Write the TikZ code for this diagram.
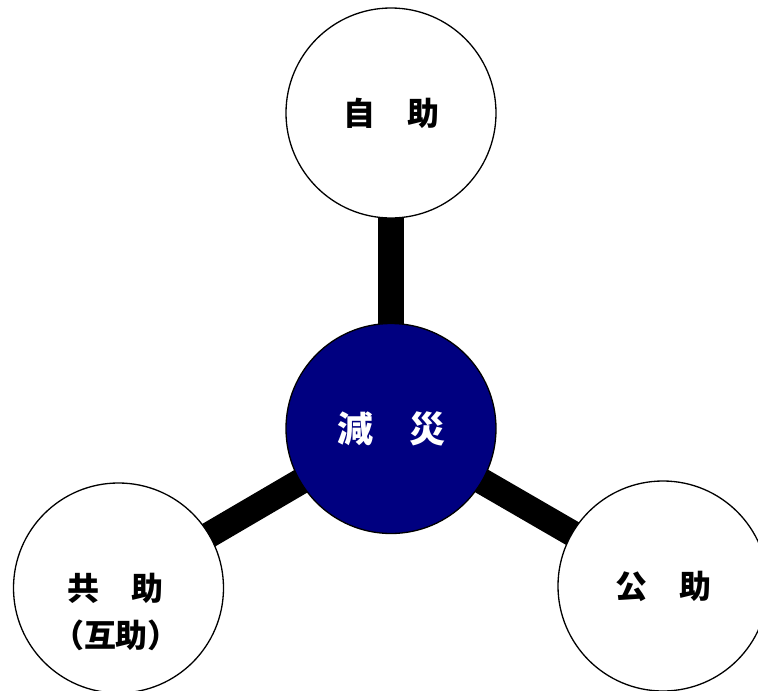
\documentclass[tikz,border=0pt]{standalone}
\usepackage{fontspec}
\newfontfamily\cjk{Noto Sans CJK JP}[BoldFont={Noto Sans CJK JP Black}]
\usetikzlibrary{backgrounds}
\definecolor{navyfill}{RGB}{0,0,128}
\begin{document}
\begin{tikzpicture}[x=1pt,y=-1pt,
  disc/.style={circle,draw=black,line width=1.3pt,fill=white,minimum size=210pt,inner sep=0pt},
  hub/.style={disc,fill=navyfill,text=white,font=\cjk\bfseries\fontsize{36}{40}\selectfont},
  lab/.style={font=\cjk\bfseries\fontsize{32}{47}\selectfont,align=center},
  bar/.style={line width=26pt,black}]
\useasboundingbox (0,0) rectangle (758,691);
\clip (0,0) rectangle (758,691);
\node[disc,lab] (self) at (391,113) {自　助};
\node[hub] (core) at (391,428.5) {減　災};
\node[disc] (mutual) at (118.5,588) {};
\node[lab,inner sep=0pt] (mutualtext) at (116,611.5) {共　助\\（互助）};
\node[disc,lab] (public) at (663,586) {公　助};
\begin{pgfonlayer}{background}
\draw[bar] (self.center) -- (core.center);
\draw[bar] (core.center) -- (mutual.center);
\draw[bar] (core.center) -- (public.center);
\end{pgfonlayer}
\end{tikzpicture}
\end{document}
